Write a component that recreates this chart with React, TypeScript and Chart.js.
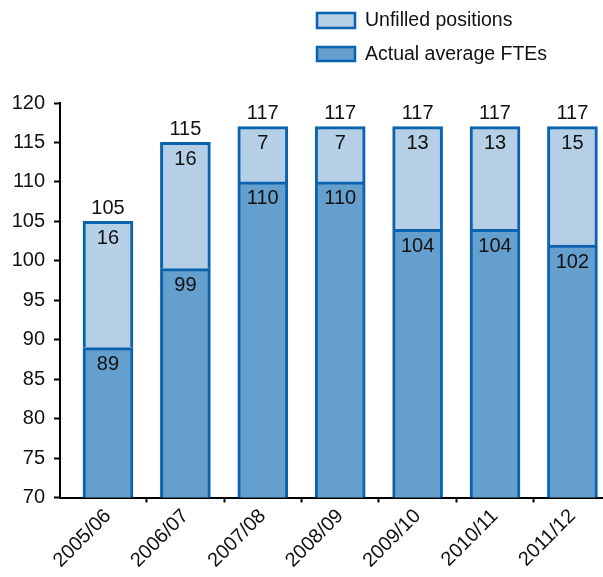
import React, { useEffect, useRef } from "react";
import { Chart, registerables } from "chart.js";

Chart.register(...registerables);

const categories = ["2005/06", "2006/07", "2007/08", "2008/09", "2009/10", "2010/11", "2011/12"];
const actualFTEs = [89, 99, 110, 110, 104, 104, 102];
const unfilledPositions = [16, 16, 7, 7, 13, 13, 15];
const totals = [105, 115, 117, 117, 117, 117, 117];
const yTicks = [70, 75, 80, 85, 90, 95, 100, 105, 110, 115, 120];

const FONT = "'Liberation Sans', Arial, sans-serif";
const DARK = "#659fcd";
const LIGHT = "#b4cfe6";
const BORDER = "#0b62ae";

const valueLabels = {
  id: "valueLabels",
  afterDatasetsDraw(chart: any) {
    const ctx = chart.ctx;
    ctx.save();
    ctx.font = `20px ${FONT}`;
    ctx.fillStyle = "#111";
    ctx.textAlign = "center";
    ctx.textBaseline = "middle";
    chart.data.datasets.forEach((ds: any, di: number) => {
      const meta = chart.getDatasetMeta(di);
      meta.data.forEach((el: any, i: number) => {
        const v = ds.data[i].y;
        ctx.fillText(String(v), el.x, el.y + 17);
      });
    });
    const topMeta = chart.getDatasetMeta(chart.data.datasets.length - 1);
    topMeta.data.forEach((el: any, i: number) => {
      ctx.fillText(String(totals[i]), el.x, el.y - 13);
    });
    ctx.restore();
  },
};

const customLegend = {
  id: "customLegend",
  afterDraw(chart: any) {
    const ctx = chart.ctx;
    ctx.save();
    const items = [chart.data.datasets[1], chart.data.datasets[0]];
    const rows = [{ y: 13, h: 15 }, { y: 47, h: 14 }];
    items.forEach((ds: any, k: number) => {
      const r = rows[k];
      ctx.fillStyle = ds.backgroundColor;
      ctx.fillRect(317, r.y, 38, r.h);
      ctx.strokeStyle = ds.borderColor;
      ctx.lineWidth = 2.5;
      ctx.strokeRect(317, r.y, 38, r.h);
      ctx.fillStyle = "#111";
      ctx.font = `19.5px ${FONT}`;
      ctx.textAlign = "left";
      ctx.textBaseline = "middle";
      ctx.fillText(ds.label, 365, r.y + r.h / 2 + 0.5);
    });
    ctx.restore();
  },
};

export default function App() {
  const ref = useRef<HTMLCanvasElement>(null);
  useEffect(() => {
    if (!ref.current) return;
    const chart = new Chart(ref.current, {
      type: "bar",
      data: {
        datasets: [
          {
            label: "Actual average FTEs",
            data: actualFTEs.map((v, i) => ({ x: i, y: v })),
            backgroundColor: DARK,
            borderColor: BORDER,
            borderWidth: 3,
            borderSkipped: "start",
            barThickness: 50,
            stack: "s",
          },
          {
            label: "Unfilled positions",
            data: unfilledPositions.map((v, i) => ({ x: i, y: v })),
            backgroundColor: LIGHT,
            borderColor: BORDER,
            borderWidth: 3,
            borderSkipped: "start",
            barThickness: 50,
            stack: "s",
          },
        ],
      },
      options: {
        responsive: false,
        animation: false,
        layout: { padding: { top: 103, right: 0, bottom: 0, left: 0 } },
        plugins: {
          legend: { display: false },
          tooltip: { enabled: false },
        },
        scales: {
          x: {
            type: "linear",
            stacked: true,
            offset: false,
            min: -0.62,
            max: 6.395,
            afterBuildTicks: (scale: any) => {
              scale.ticks = categories.map((_, i) => ({ value: i }));
            },
            afterFit: (scale: any) => {
              scale.height = 79.5;
            },
            ticks: {
              autoSkip: false,
              minRotation: 45,
              maxRotation: 45,
              padding: 2,
              color: "#111",
              font: { family: FONT, size: 20 },
              callback: (value: any) => categories[Math.round(Number(value))] ?? "",
            },
            grid: {
              offset: true,
              drawOnChartArea: false,
              tickLength: 5,
              tickWidth: 2,
              tickColor: (c: any) => (c.index === 0 ? "rgba(0,0,0,0)" : "#000"),
            },
            border: { color: "#000", width: 2 },
          },
          y: {
            stacked: true,
            min: 70,
            max: 120,
            afterBuildTicks: (scale: any) => {
              scale.ticks = yTicks.map((v) => ({ value: v }));
            },
            afterFit: (scale: any) => {
              scale.width = 60;
            },
            ticks: {
              padding: 9,
              color: "#111",
              font: { family: FONT, size: 20 },
            },
            grid: {
              drawOnChartArea: false,
              tickLength: 6,
              tickWidth: 2,
              tickColor: "#000",
            },
            border: { color: "#000", width: 2 },
          },
        },
      },
      plugins: [valueLabels, customLegend],
    });
    return () => chart.destroy();
  }, []);
  return (
    <div style={{ position: "absolute", left: 0, top: 0, width: 603, height: 577, background: "#fff" }}>
      <canvas ref={ref} width={603} height={577} style={{ display: "block" }} />
    </div>
  );
}
